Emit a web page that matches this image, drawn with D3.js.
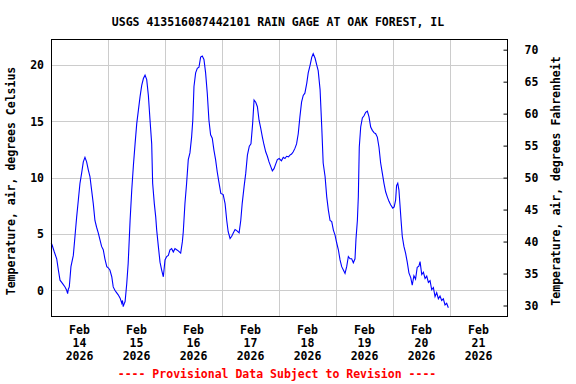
<!DOCTYPE html>
<html>
<head>
<meta charset="utf-8">
<script src="https://cdn.jsdelivr.net/npm/d3@7"></script>
<style>
  html, body { margin: 0; padding: 0; background: #fff; }
  svg text { font-family: "DejaVu Sans Mono", "Liberation Mono", monospace; font-weight: bold; font-size: 11.5px; }
</style>
</head>
<body>
<div id="chart"></div>
<script>
// ---- Data (hours since 2026-02-14 00:00, air temperature in °C) ----
const title = "USGS 413516087442101 RAIN GAGE AT OAK FOREST, IL";
const leftTitle = "Temperature, air, degrees Celsius";
const rightTitle = "Temperature, air, degrees Fahrenheit";
const footer = "---- Provisional Data Subject to Revision ----";

const hours = [
  0.1, 0.5, 1.4, 2.4, 3.1, 3.8, 4.5, 5.2, 5.9, 6.6, 7.0, 7.3, 7.7, 8.4, 9.4, 10.1, 10.8, 11.5, 12.2, 12.9,
  13.6, 14.3, 15.0, 15.7, 16.4, 17.1, 17.8, 18.5, 19.2, 19.9, 20.6, 21.3, 22.0, 22.7, 23.5, 24.1, 24.8, 25.6, 26.2, 26.9,
  27.6, 28.3, 29.1, 29.8, 30.1, 30.4, 30.8, 31.2, 31.9, 32.5, 33.3, 34.0, 34.7, 35.4, 36.1, 36.8, 37.5, 38.2, 38.9, 39.6,
  40.3, 41.0, 41.7, 42.4, 42.8, 43.5, 44.1, 44.5, 45.2, 45.9, 46.6, 47.3, 48.0, 48.7, 49.4, 50.1, 50.8, 51.5, 52.2, 52.9,
  53.6, 54.6, 55.3, 55.7, 56.4, 57.1, 57.8, 58.5, 59.2, 59.7, 60.2, 60.9, 61.6, 62.3, 63.0, 63.7, 64.4, 65.1, 65.8, 66.5,
  67.2, 67.9, 68.6, 69.3, 70.0, 70.7, 71.5, 72.5, 73.3, 74.0, 74.6, 75.4, 76.1, 76.8, 77.5, 78.2, 79.2, 79.9, 80.5, 81.3,
  82.0, 82.7, 83.5, 84.2, 84.9, 85.5, 86.2, 86.9, 87.6, 88.3, 89.0, 89.7, 90.4, 91.1, 91.8, 92.5, 93.2, 93.9, 94.6, 95.3,
  96.1, 97.0, 97.8, 98.5, 99.2, 100.0, 100.6, 101.3, 102.0, 102.7, 103.4, 104.1, 104.8, 105.5, 106.2, 106.9, 107.7, 108.3, 109.1, 109.8,
  110.4, 111.2, 111.9, 112.5, 113.3, 114.0, 114.6, 115.4, 116.1, 116.8, 117.5, 118.2, 118.9, 119.6, 120.3, 121.0, 121.7, 122.4, 123.1, 123.8,
  124.5, 125.2, 125.9, 126.6, 127.3, 128.0, 128.4, 129.0, 129.4, 129.8, 130.4, 131.1, 131.8, 132.5, 133.2, 133.9, 134.6, 135.3, 136.0, 136.7,
  137.4, 138.1, 138.8, 139.5, 140.2, 140.9, 141.6, 142.3, 143.0, 143.9, 144.5, 145.1, 145.5, 146.0, 146.5, 146.9, 147.4, 147.9, 148.6, 149.3,
  150.0, 150.7, 151.5, 152.1, 152.8, 153.5, 154.2, 154.9, 155.4, 156.1, 156.8, 157.5, 158.2, 158.9, 159.6, 160.3, 161.0, 161.7, 162.4, 163.1,
  163.8, 164.5, 165.2, 165.9, 166.6, 167.3
];
const tempC = [
  4.2, 4.0, 3.4, 2.8, 1.8, 0.9, 0.7, 0.5, 0.3, 0.0, -0.3, 0.1, 0.3, 2.1, 3.1, 4.8, 6.5, 8.0, 9.5, 10.4,
  11.4, 11.8, 11.4, 10.7, 10.1, 8.9, 7.7, 6.2, 5.6, 5.1, 4.5, 3.9, 3.6, 2.8, 2.1, 2.0, 1.8, 1.2, 0.3, 0.0,
  -0.2, -0.4, -0.7, -1.15, -0.9, -1.45, -1.2, -1.0, 0.6, 2.4, 6.2, 8.9, 11.1, 13.0, 14.8, 16.0, 17.2, 18.2, 18.8, 19.1,
  18.7, 17.3, 15.1, 13.0, 9.5, 7.7, 6.5, 5.35, 3.9, 2.5, 1.8, 1.2, 2.7, 3.0, 3.1, 3.6, 3.7, 3.4, 3.7, 3.6,
  3.5, 3.3, 4.3, 5.2, 7.7, 9.5, 11.6, 12.2, 13.6, 15.1, 18.1, 19.3, 19.7, 19.8, 20.7, 20.8, 20.5, 19.3, 17.5, 15.1,
  13.8, 13.5, 12.45, 11.6, 10.5, 9.6, 8.6, 8.5, 7.7, 6.2, 5.2, 4.6, 4.8, 5.1, 5.4, 5.3, 5.1, 6.2, 7.7, 9.2,
  10.4, 12.0, 12.8, 13.0, 14.8, 16.9, 16.7, 16.3, 15.1, 14.4, 13.6, 12.9, 12.3, 11.9, 11.4, 11.0, 10.6, 10.8, 11.2, 11.6,
  11.7, 11.5, 11.8, 11.7, 11.9, 11.85, 12.0, 12.1, 12.3, 12.6, 13.0, 13.9, 15.4, 16.7, 17.3, 17.5, 18.4, 19.3, 20.0, 20.7,
  21.0, 20.6, 20.0, 19.5, 17.8, 14.5, 11.3, 10.1, 8.3, 7.1, 6.2, 6.1, 5.35, 4.9, 4.2, 3.6, 2.7, 2.1, 1.8, 1.5,
  2.1, 3.0, 2.8, 2.8, 2.45, 2.8, 4.5, 6.2, 8.3, 12.7, 14.5, 15.3, 15.5, 15.8, 15.9, 15.4, 14.5, 14.2, 14.0, 13.9,
  13.6, 12.7, 11.3, 10.4, 9.5, 8.75, 8.3, 7.9, 7.6, 7.3, 7.4, 8.0, 9.3, 9.5, 8.9, 7.7, 6.2, 4.8, 3.9, 3.3,
  2.5, 1.8, 0.9, 0.6, 1.1, 1.2, 1.8, 2.3, 2.4, 1.65, 1.4, 1.2, 1.06, 0.9, 0.6, 0.2, 0.1, -0.3, -0.4, -0.6,
  -0.7, -0.7, -1.0, -1.15, -1.3, -1.3
];
// Small jitter visible in the record near the freezing point
const noisyStart = 150; // hour after which the record is visibly jittery
const jitter = [0.2, -0.2, 0.25, -0.15, 0.15, -0.25, 0.2, -0.15];

const dayLabels = ["14", "15", "16", "17", "18", "19", "20", "21"];
const monthLabel = "Feb";
const yearLabel = "2026";
const celsiusTicks = [0, 5, 10, 15, 20];
const fahrenheitTicks = [30, 35, 40, 45, 50, 55, 60, 65, 70];

// ---- Layout ----
const W = 576, H = 384;
const plot = { left: 51, right: 507, top: 39, bottom: 316 };

const svg = d3.select("#chart").append("svg")
  .attr("width", W).attr("height", H)
  .attr("viewBox", `0 0 ${W} ${H}`);

const t0 = Date.UTC(2026, 1, 14);
const hourMs = 3600 * 1000;
const x = d3.scaleUtc()
  .domain([new Date(t0), new Date(t0 + 8 * 24 * hourMs)])
  .range([plot.left, plot.right]);
const yC = d3.scaleLinear().domain([-2.28, 22.31]).range([plot.bottom, plot.top]);
const yF = d3.scaleLinear().domain([28.36, 71.67]).range([plot.bottom, plot.top]);

// gridlines
const grid = svg.append("g").attr("stroke", "#cccccc").attr("stroke-width", 1).attr("shape-rendering", "crispEdges");
celsiusTicks.forEach(v => {
  grid.append("line").attr("x1", plot.left).attr("x2", plot.right)
    .attr("y1", Math.round(yC(v)) + 0.5).attr("y2", Math.round(yC(v)) + 0.5);
});
for (let d = 1; d < 8; d++) {
  const xx = Math.round(x(new Date(t0 + d * 24 * hourMs))) + 0.5;
  grid.append("line").attr("x1", xx).attr("x2", xx).attr("y1", plot.top).attr("y2", plot.bottom);
}

// data line
const data = hours.map((h, i) => ({
  t: new Date(t0 + h * hourMs),
  v: tempC[i] + (h > noisyStart ? jitter[i % jitter.length] : 0)
}));
const line = d3.line().x(d => x(d.t)).y(d => yC(d.v));
svg.append("path").datum(data)
  .attr("fill", "none").attr("stroke", "#0000ff").attr("stroke-width", 1.1)
  .attr("stroke-linejoin", "miter")
  .attr("d", line);

// frame
svg.append("rect").attr("x", plot.left + 0.5).attr("y", plot.top + 0.5)
  .attr("width", plot.right - plot.left).attr("height", plot.bottom - plot.top)
  .attr("fill", "none").attr("stroke", "#000").attr("stroke-width", 1)
  .attr("shape-rendering", "crispEdges");

// left axis labels
const leftAxis = d3.axisLeft(yC).tickValues(celsiusTicks).tickSize(0).tickPadding(7);
const gL = svg.append("g").attr("transform", `translate(${plot.left},0)`).call(leftAxis);
gL.select(".domain").remove();
gL.selectAll("text").attr("fill", "#000").attr("font-size", null).attr("font-family", null);

// right axis (ticks drawn inward)
const rightAxis = d3.axisRight(yF).tickValues(fahrenheitTicks).tickSize(-4).tickPadding(17);
const gR = svg.append("g").attr("transform", `translate(${plot.right + 0.5},0)`).call(rightAxis);
gR.select(".domain").remove();
gR.selectAll("line").attr("stroke", "#000");
gR.selectAll("text").attr("fill", "#000").attr("font-size", null).attr("font-family", null);

// bottom labels (centered at noon of each day)
const gB = svg.append("g");
dayLabels.forEach((d, i) => {
  const xx = x(new Date(t0 + (i + 0.5) * 24 * hourMs));
  const txt = gB.append("text").attr("text-anchor", "middle").attr("x", xx);
  txt.append("tspan").attr("x", xx).attr("y", 334).text(monthLabel);
  txt.append("tspan").attr("x", xx).attr("y", 347).text(d);
  txt.append("tspan").attr("x", xx).attr("y", 360).text(yearLabel);
});

// title
svg.append("text").attr("x", 278).attr("y", 26).attr("text-anchor", "middle").text(title);

// axis titles
svg.append("text").attr("transform", "translate(15,181) rotate(-90)")
  .attr("text-anchor", "middle").text(leftTitle);
svg.append("text").attr("transform", "translate(560,181) rotate(-90)")
  .attr("text-anchor", "middle").text(rightTitle);

// footer
svg.append("text").attr("x", 277).attr("y", 378).attr("text-anchor", "middle")
  .attr("fill", "#ff0000").text(footer);
</script>
</body>
</html>
